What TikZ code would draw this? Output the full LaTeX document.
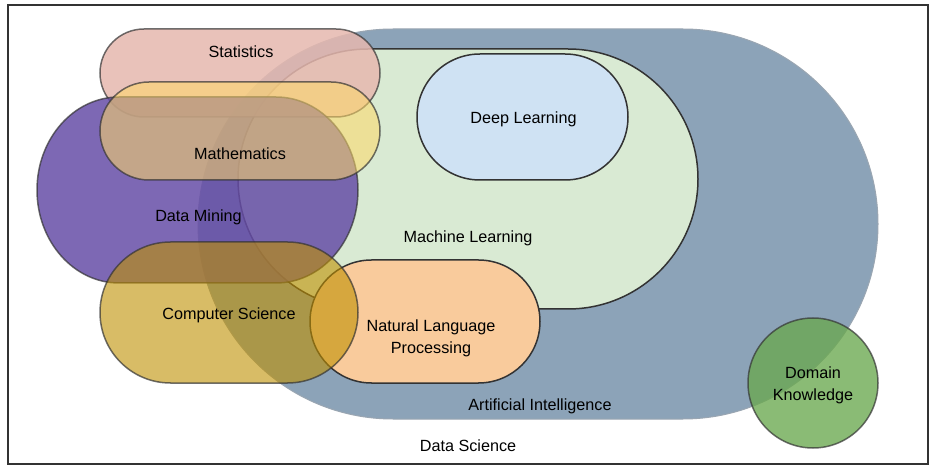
\documentclass[tikz,border=0pt]{standalone}
\usepackage{fontspec}
\setmainfont{Liberation Sans}
\definecolor{frameC}{HTML}{333333}
\definecolor{aiC}{HTML}{8CA3B8}
\definecolor{aiLine}{HTML}{9AA6B2}
\definecolor{mlC}{HTML}{D9EAD3}
\definecolor{dlC}{HTML}{CFE2F3}
\definecolor{nlpC}{HTML}{F9CB9C}
\definecolor{statC}{HTML}{E6B8AF}
\definecolor{dmC}{HTML}{674EA7}
\definecolor{mathC}{HTML}{FFD966}
\definecolor{csC}{HTML}{BF9000}
\definecolor{domC}{HTML}{6AA84F}
\begin{document}
\begin{tikzpicture}[x=1pt,y=-1pt,
  edge/.style={draw=frameC, line width=1.5pt},
  softedge/.style={draw=frameC, line width=1.5pt, draw opacity=0.7},
  lbl/.style={font=\fontsize{16.2}{22.5}\selectfont, inner sep=0pt, text height=11.7pt, text depth=0pt},
  lbltwo/.style={font=\fontsize{16.2}{22.5}\selectfont, inner sep=0pt, align=center}]
\useasboundingbox (0,0) rectangle (938,473);
\fill[white] (0,0) rectangle (938,473);
% frame
\draw[draw=frameC, line width=2pt] (8,5) rectangle (928,464);
% Artificial Intelligence
\path[fill=aiC, draw=aiLine, line width=1pt, rounded corners=195pt] (198,29) rectangle (878,419);
% Machine Learning
\path[fill=mlC, edge, rounded corners=130pt] (238,49) rectangle (698,309);
% Deep Learning
\path[fill=dlC, edge, rounded corners=63pt] (417,54) rectangle (628,180);
% NLP
\path[fill=nlpC, edge, rounded corners=61.5pt] (310,260) rectangle (540,383);
% Statistics
\path[fill=statC, fill opacity=0.85, softedge, rounded corners=44pt] (100,29) rectangle (380,117);
% Data Mining
\path[fill=dmC, fill opacity=0.85, softedge]
  (119,97) -- (276,97) arc[start angle=-90, end angle=90, x radius=82, y radius=93]
  -- (119,283) arc[start angle=90, end angle=270, x radius=82, y radius=93] -- cycle;
% Mathematics
\path[fill=mathC, fill opacity=0.55, softedge, rounded corners=49pt] (100,82) rectangle (380,180);
% Computer Science
\path[fill=csC, fill opacity=0.6, softedge, rounded corners=70.5pt] (100,242) rectangle (358,383);
% Domain Knowledge
\path[fill=domC, fill opacity=0.78, softedge] (813,383) circle [radius=65];
% labels
\node[lbl] (tStat) at (241,51.7) {Statistics};
\node[lbl] (tMath) at (240,153.7) {Mathematics};
\node[lbl] (tDM) at (198.5,216) {Data Mining};
\node[lbl] (tML) at (468,237) {Machine Learning};
\node[lbl] (tDL) at (523.5,118) {Deep Learning};
\node[lbl] (tCS) at (229,313.7) {Computer Science};
\node[lbltwo] (tNLP) at (431,338.3) {Natural Language\\Processing};
\node[lbl] (tAI) at (540,404.3) {Artificial Intelligence};
\node[lbl] (tDS) at (468,445.7) {Data Science};
\node[lbltwo] (tDom) at (813,385.2) {Domain\\Knowledge};
\end{tikzpicture}
\end{document}
